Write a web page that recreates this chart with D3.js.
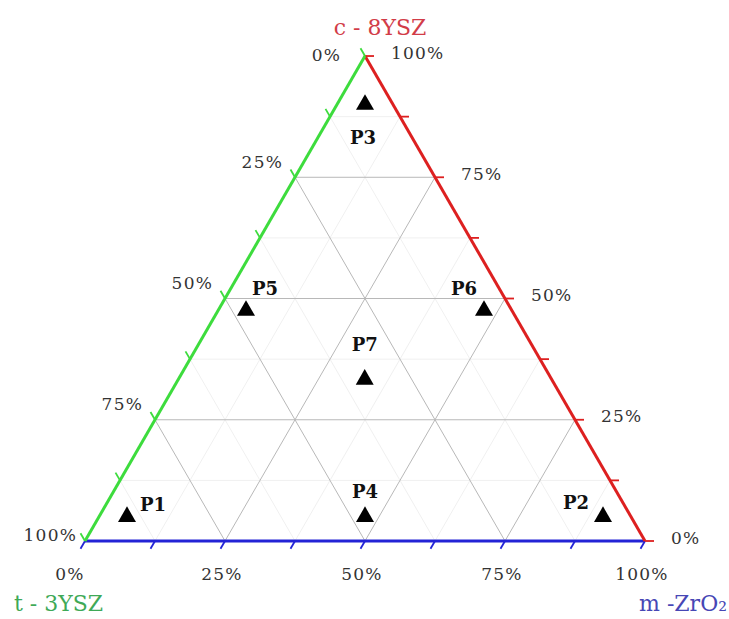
<!DOCTYPE html>
<html>
<head>
<meta charset="utf-8">
<script src="https://cdn.jsdelivr.net/npm/d3@7"></script>
<style>
  html, body { margin: 0; padding: 0; background: #fff; }
  svg { display: block; }
</style>
</head>
<body>
<svg id="chart" width="729" height="619"></svg>
<script>
// Ternary composition of the three zirconia phases (fractions of 1)
const samples = ["P1", "P2", "P3", "P4", "P5", "P6", "P7"];
const tFrac = [0.90, 0.05, 0.05, 0.475, 0.475, 0.05, 0.334];   // t-3YSZ
const mFrac = [0.05, 0.90, 0.05, 0.475, 0.05, 0.475, 0.333];   // m-ZrO2
const cFrac = [0.05, 0.05, 0.90, 0.05, 0.475, 0.475, 0.333];   // c-8YSZ

const majorTicks = [0, 0.25, 0.5, 0.75, 1];
const tickLabels = ["0%", "25%", "50%", "75%", "100%"];
const minorTicks = [0.125, 0.375, 0.625, 0.875];
const allTicks = [0, 0.125, 0.25, 0.375, 0.5, 0.625, 0.75, 0.875, 1];

const svg = d3.select("#chart");

// Triangle frame: base from (85,541) to (645,541), apex above the middle
const x0 = 85, W = 560, yBase = 541;
const H = W * Math.sqrt(3) / 2;
const xScale = d3.scaleLinear().domain([0, 1]).range([x0, x0 + W]);   // m + c/2
const yScale = d3.scaleLinear().domain([0, 1]).range([yBase, yBase - H]); // c

function pt(t, m, c) {
  const s = t + m + c;
  t /= s; m /= s; c /= s;
  return [xScale(m + c / 2), yScale(c)];
}

const colC = "#dd2020", colT = "#3ddc3d", colM = "#2323d6";
const serif = "'DejaVu Serif', 'Liberation Serif', serif";

// Grid lines for each component
function gridLine(family, v) {
  if (family === "c") return [pt(1 - v, 0, v), pt(0, 1 - v, v)];
  if (family === "m") return [pt(0, v, 1 - v), pt(1 - v, v, 0)];
  return [pt(v, 1 - v, 0), pt(v, 0, 1 - v)];
}
const line = d3.line();
const gGrid = svg.append("g");
["c", "m", "t"].forEach(f => {
  minorTicks.forEach(v => {
    gGrid.append("path").attr("d", line(gridLine(f, v)))
      .attr("stroke", "#f0f0f0").attr("stroke-width", 1).attr("fill", "none");
  });
});
["c", "m", "t"].forEach(f => {
  majorTicks.slice(1, -1).forEach(v => {
    gGrid.append("path").attr("d", line(gridLine(f, v)))
      .attr("stroke", "#b8b8b8").attr("stroke-width", 1).attr("fill", "none");
  });
});

// Axes: edge line, ticks along grid directions, percentage labels
const tickLen = 9;
const axes = [
  { key: "m", color: colM, at: v => pt(1 - v, v, 0), dir: [-0.5, Math.sqrt(3) / 2] },
  { key: "c", color: colC, at: v => pt(0, 1 - v, v), dir: [1, 0] },
  { key: "t", color: colT, at: v => pt(v, 0, 1 - v), dir: [-0.5, -Math.sqrt(3) / 2] }
];
const gAxes = svg.append("g");
axes.forEach(a => {
  gAxes.append("path").attr("d", line([a.at(0), a.at(1)]))
    .attr("stroke", a.color).attr("stroke-width", 3).attr("fill", "none")
    .attr("stroke-linecap", "butt");
  allTicks.forEach(v => {
    const p = a.at(v);
    gAxes.append("line")
      .attr("x1", p[0]).attr("y1", p[1])
      .attr("x2", p[0] + a.dir[0] * tickLen).attr("y2", p[1] + a.dir[1] * tickLen)
      .attr("stroke", a.color).attr("stroke-width", 1.8);
  });
});

const gLabels = svg.append("g")
  .attr("font-family", serif).attr("font-size", 17)
  .attr("fill", "#333").attr("letter-spacing", 1.2);

majorTicks.forEach((v, i) => {
  // bottom axis (m-ZrO2)
  let p = axes[0].at(v);
  gLabels.append("text")
    .attr("x", p[0] - (v === 0 ? 15 : 3)).attr("y", 580)
    .attr("text-anchor", "middle").text(tickLabels[i]);
  // right axis (c-8YSZ)
  p = axes[1].at(v);
  gLabels.append("text")
    .attr("x", p[0] + 26).attr("y", p[1] - 2)
    .attr("dominant-baseline", "middle").text(tickLabels[i]);
  // left axis (t-3YSZ)
  p = axes[2].at(v);
  let dx = -12, dy = -14;
  if (v === 0) { dx = -24; dy = 0; }
  if (v === 1) { dx = -8; dy = -5; }
  gLabels.append("text")
    .attr("x", p[0] + dx).attr("y", p[1] + dy)
    .attr("text-anchor", "end").attr("dominant-baseline", "middle")
    .text(tickLabels[i]);
});

// Component titles at the vertices
svg.append("text").attr("x", 380).attr("y", 35).attr("text-anchor", "middle")
  .attr("font-family", serif).attr("font-size", 22).attr("fill", "#d23c48")
  .text("c - 8YSZ");
svg.append("text").attr("x", 14).attr("y", 611)
  .attr("font-family", serif).attr("font-size", 22).attr("fill", "#3fa957")
  .text("t - 3YSZ");
svg.append("text").attr("x", 727).attr("y", 611).attr("text-anchor", "end")
  .attr("font-family", serif).attr("font-size", 22).attr("fill", "#4747b5")
  .text("m -ZrO₂");

// Sample markers and labels
const labelPos = {
  P1: { dx: 13, dy: -6, anchor: "start" },
  P2: { dx: -14, dy: -8, anchor: "end" },
  P3: { dx: -2, dy: 39, anchor: "middle" },
  P4: { dx: 0, dy: -19, anchor: "middle" },
  P5: { dx: 6, dy: -16, anchor: "start" },
  P6: { dx: -7, dy: -16, anchor: "end" },
  P7: { dx: 0, dy: -29, anchor: "middle" }
};
const tri = d3.symbol().type(d3.symbolTriangle).size(140);
const gPts = svg.append("g");
samples.forEach((name, i) => {
  const p = pt(tFrac[i], mFrac[i], cFrac[i]);
  gPts.append("path").attr("d", tri)
    .attr("transform", `translate(${p[0]},${p[1]})`).attr("fill", "#000");
  const lp = labelPos[name];
  gPts.append("text")
    .attr("x", p[0] + lp.dx).attr("y", p[1] + lp.dy)
    .attr("text-anchor", lp.anchor)
    .attr("font-family", serif).attr("font-size", 18).attr("font-weight", "bold")
    .attr("fill", "#111").text(name);
});
</script>
</body>
</html>
